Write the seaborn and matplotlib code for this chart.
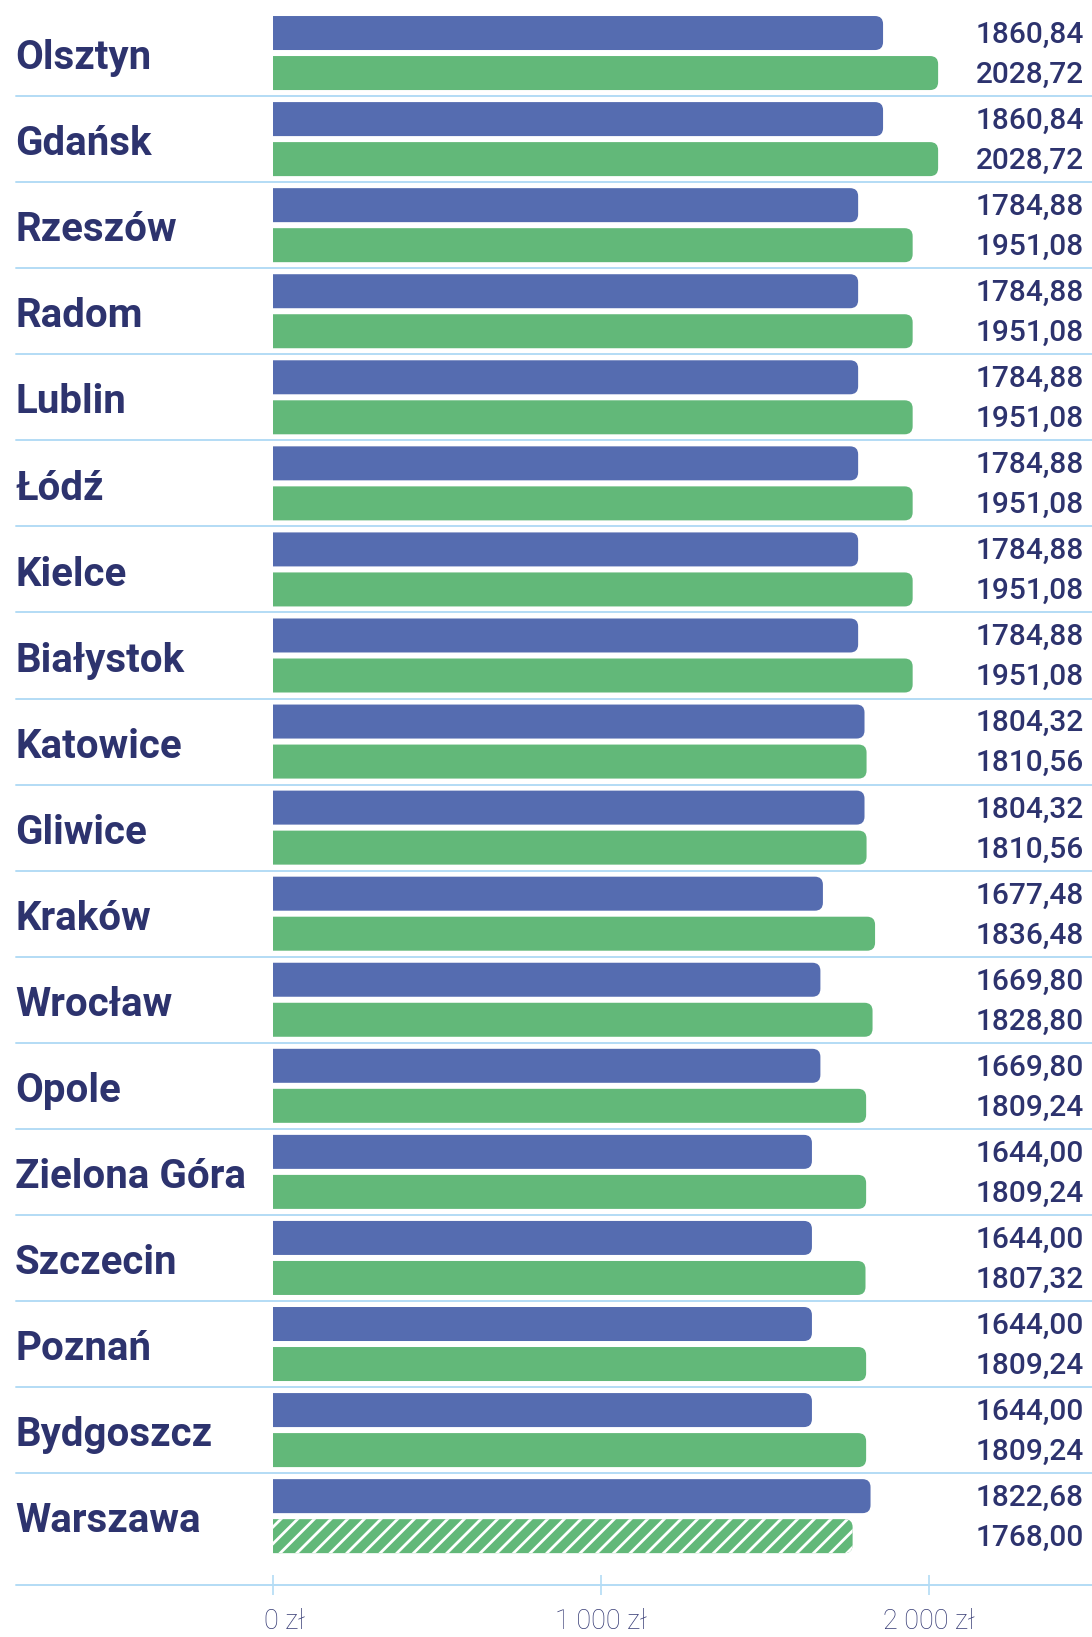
import pandas as pd
import matplotlib.pyplot as plt
import seaborn as sns
from matplotlib.patches import FancyBboxPatch
from matplotlib.lines import Line2D
import matplotlib.transforms as mtransforms

# -------------------------
# Data
# -------------------------
cities = ["Olsztyn", "Gdańsk", "Rzeszów", "Radom", "Lublin", "Łódź", "Kielce",
          "Białystok", "Katowice", "Gliwice", "Kraków", "Wrocław", "Opole",
          "Zielona Góra", "Szczecin", "Poznań", "Bydgoszcz", "Warszawa"]
blue_values = [1860.84, 1860.84, 1784.88, 1784.88, 1784.88, 1784.88, 1784.88,
               1784.88, 1804.32, 1804.32, 1677.48, 1669.80, 1669.80, 1644.00,
               1644.00, 1644.00, 1644.00, 1822.68]
green_values = [2028.72, 2028.72, 1951.08, 1951.08, 1951.08, 1951.08, 1951.08,
                1951.08, 1810.56, 1810.56, 1836.48, 1828.80, 1809.24, 1809.24,
                1807.32, 1809.24, 1809.24, 1768.00]
tick_values = [0, 1000, 2000]
tick_labels = ["0 zł", "1 000 zł", "2 000 zł"]

BLUE = "#556cb0"
GREEN = "#62b879"
NAVY = "#2d336e"
LINE = "#b3dcf5"

df = pd.DataFrame({
    "city": cities * 2,
    "value": blue_values + green_values,
    "series": ["blue"] * len(cities) + ["green"] * len(cities),
})

sns.set_style("white")
plt.rcParams["font.family"] = ["Roboto", "DejaVu Sans"]
plt.rcParams["hatch.linewidth"] = 2.0

W, H = 1092, 1637
fig = plt.figure(figsize=(W / 100, H / 100), dpi=100)
ax_left, ax_right = 272.7, 1092
ax_top, ax_bottom = 10, 1585
ax = fig.add_axes([ax_left / W, 1 - ax_bottom / H,
                   (ax_right - ax_left) / W, (ax_bottom - ax_top) / H])

sns.barplot(data=df, y="city", x="value", hue="series", orient="h",
            palette=[BLUE, GREEN], width=0.93, saturation=1,
            legend=False, ax=ax)

px_per_1000 = 328
xmax = (ax_right - ax_left) / px_per_1000 * 1000
n = len(cities)
ax.set_xlim(0, xmax)
ax.set_ylim(n - 0.5 + 0.3, -0.5)

# rounded bars (right end), built from the seaborn patches
x_per_px = 1000 / px_per_1000
y_per_px = (n + 0.3) / (ax_bottom - ax_top)
r_px = 8
rx = r_px * x_per_px
aspect = (r_px * y_per_px) / rx
bar_h = 34 * y_per_px
trans = mtransforms.blended_transform_factory(fig.transFigure, ax.transData)
for k, cont in enumerate(ax.containers):
    for i, p in enumerate(list(cont.patches)):
        yc = p.get_y() + p.get_height() / 2
        w = p.get_width()
        hatch = "//" if (k == 1 and cities[i] == "Warszawa") else None
        fb = FancyBboxPatch((-60, yc - bar_h / 2), w + 60, bar_h,
                            boxstyle=f"round,pad=0,rounding_size={rx}",
                            mutation_aspect=aspect,
                            facecolor=p.get_facecolor(),
                            edgecolor="white" if hatch else "none",
                            linewidth=0, hatch=hatch)
        ax.add_patch(fb)
        p.remove()

        # value label at the right edge
        ax.text(1084 / W, yc + 0.02, f"{w:.2f}".replace(".", ","), transform=trans,
                ha="right", va="center", fontsize=21.5, fontweight="medium",
                color=NAVY, clip_on=False)

# city labels
for i, c in enumerate(cities):
    ax.text(15 / W, i + 0.06, c, transform=trans, ha="left", va="center",
            fontsize=29, fontweight="bold", color=NAVY, clip_on=False)

# separators between rows
for i in range(n - 1):
    ax.add_line(Line2D([16 / W, 1], [i + 0.5, i + 0.5], transform=trans,
                       color=LINE, linewidth=1.4, clip_on=False))

# bottom axis line across the full width
fig.add_artist(Line2D([16 / W, 1], [1 - ax_bottom / H, 1 - ax_bottom / H],
                      transform=fig.transFigure, color=LINE, linewidth=1.4))

sns.despine(ax=ax, left=True, bottom=True, top=True, right=True)
ax.set_yticks([])
ax.set_xticks(tick_values)
ax.set_xticklabels(tick_labels, fontsize=19.5, fontweight="light", color="#353a74")
ax.tick_params(axis="x", bottom=True, direction="inout", length=15, width=1.2,
               color=LINE, pad=9)
# first label sits a bit right of its tick
first = ax.get_xticklabels()[0]
first.set_transform(first.get_transform() + mtransforms.ScaledTranslation(12 / 100, 0, fig.dpi_scale_trans))
ax.set_xlabel("")
ax.set_ylabel("")

plt.savefig("out.png", dpi=100)
